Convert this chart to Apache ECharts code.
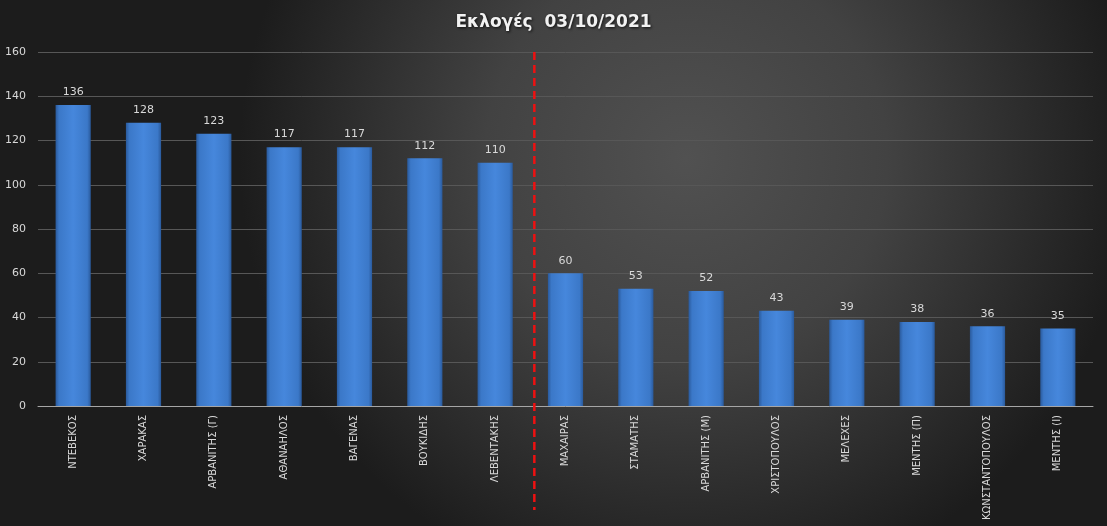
<!DOCTYPE html>
<html><head><meta charset="utf-8">
<script src="https://cdn.jsdelivr.net/npm/echarts@6/dist/echarts.min.js"></script>
<style>html,body{margin:0;padding:0;}#c{width:1107px;height:526px;}</style>
</head><body><div id="c"></div>
<script>
const categories = ['ΝΤΕΒΕΚΟΣ','ΧΑΡΑΚΑΣ','ΑΡΒΑΝΙΤΗΣ (Γ)','ΑΘΑΝΑΗΛΟΣ','ΒΑΓΕΝΑΣ','ΒΟΥΚΙΔΗΣ','ΛΕΒΕΝΤΑΚΗΣ','ΜΑΧΑΙΡΑΣ','ΣΤΑΜΑΤΗΣ','ΑΡΒΑΝΙΤΗΣ (Μ)','ΧΡΙΣΤΟΠΟΥΛΟΣ','ΜΕΛΕΧΕΣ','ΜΕΝΤΗΣ (Π)','ΚΩΝΣΤΑΝΤΟΠΟΥΛΟΣ','ΜΕΝΤΗΣ (Ι)'];
const votes = [136,128,123,117,117,112,110,60,53,52,43,39,38,36,35];
const splitAfterIndex = 6;
const titleText = 'Εκλογές  03/10/2021';

const chart = echarts.init(document.getElementById('c'));
const barGrad = new echarts.graphic.LinearGradient(0,0,1,0,[
  {offset:0,color:'#2a5a9c'},{offset:0.1,color:'#3b78c8'},{offset:0.5,color:'#4687dc'},{offset:0.9,color:'#3b78c8'},{offset:1,color:'#2a5a9c'}]);
chart.setOption({
  backgroundColor: new echarts.graphic.RadialGradient(0.62,0.3,0.85,[
    {offset:0,color:'#515151'},{offset:0.45,color:'#424242'},{offset:1,color:'#1c1c1c'}]),
  title:{text:titleText,left:'center',top:9,textStyle:{color:'#f2f2f2',fontFamily:'DejaVu Sans',fontWeight:'bold',fontSize:17,textShadowColor:'rgba(0,0,0,0.8)',textShadowBlur:3,textShadowOffsetX:1,textShadowOffsetY:1}},
  grid:{left:38,right:14,top:52,bottom:120},
  xAxis:{type:'category',data:categories,
    axisLine:{lineStyle:{color:'#a6a6a6',width:1}},axisTick:{show:false},
    axisLabel:{rotate:90,color:'#d9d9d9',fontSize:10,fontFamily:'DejaVu Sans',margin:9,interval:0}},
  yAxis:{type:'value',min:0,max:160,interval:20,
    axisLabel:{color:'#d9d9d9',fontSize:11,fontFamily:'DejaVu Sans',margin:12},
    splitLine:{lineStyle:{color:'#575757',width:1}},axisLine:{show:false},axisTick:{show:false}},
  series:[{type:'bar',data:votes,barWidth:'50%',
    itemStyle:{color:barGrad},
    label:{show:true,position:'top',distance:7,color:'#d9d9d9',fontSize:11,fontFamily:'DejaVu Sans'}}],
  animation:false
});
const x1 = chart.convertToPixel({xAxisIndex:0}, splitAfterIndex);
const x2 = chart.convertToPixel({xAxisIndex:0}, splitAfterIndex+1);
const xm = (x1+x2)/2 + 4;
const yTop = chart.convertToPixel({yAxisIndex:0}, 160);
chart.setOption({graphic:[{type:'line',shape:{x1:xm,y1:yTop,x2:xm,y2:510},style:{stroke:'#ee1111',lineWidth:2.5,lineDash:[8,5]},z:10}]});
</script></body></html>
